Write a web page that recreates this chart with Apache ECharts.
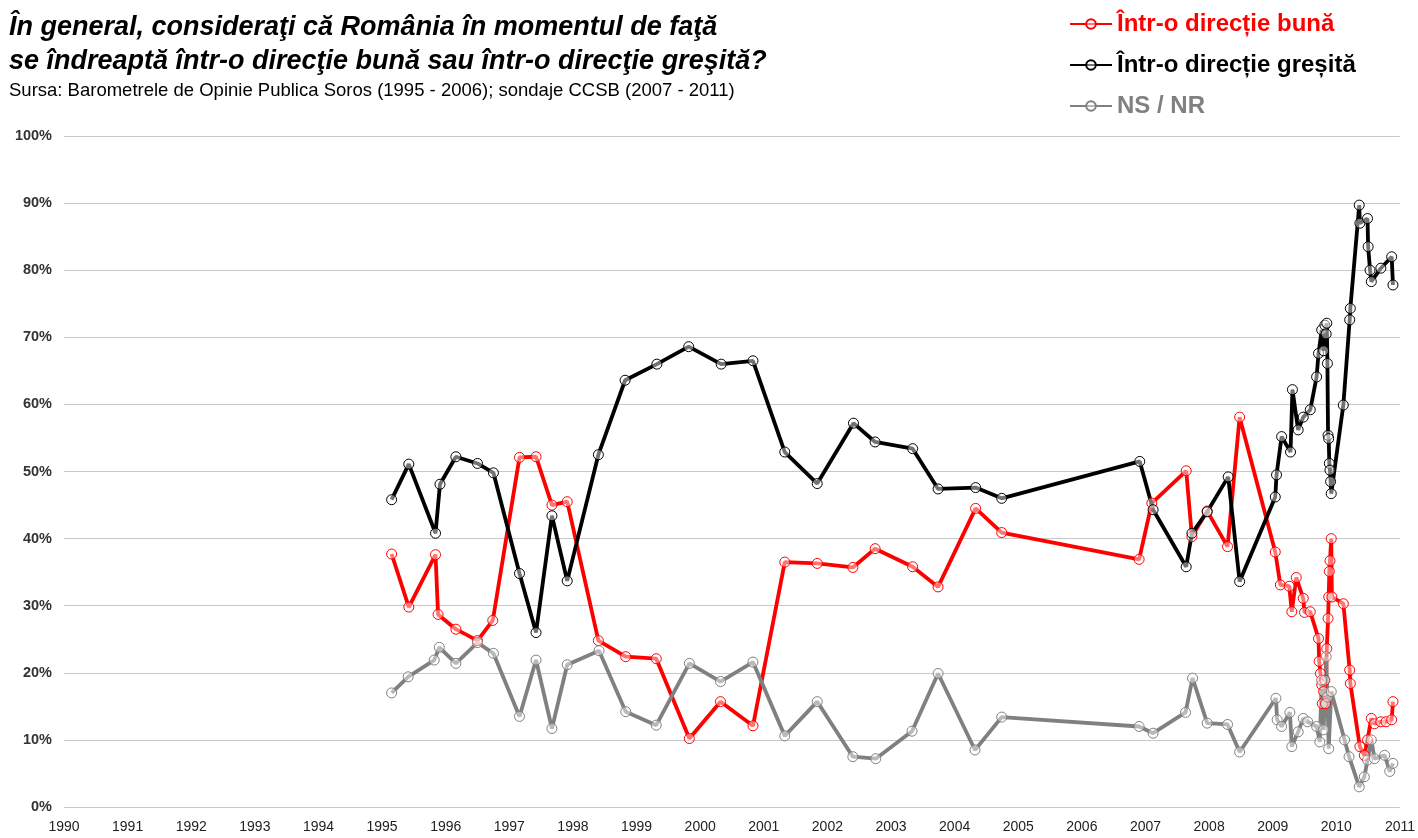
<!DOCTYPE html>
<html>
<head>
<meta charset="utf-8">
<title>Directia tarii</title>
<script src="https://cdn.jsdelivr.net/npm/echarts@6/dist/echarts.min.js"></script>
<style>
  html, body { margin: 0; padding: 0; background: #fff; }
  #chart { width: 1418px; height: 838px; }
</style>
</head>
<body>
<div id="chart"></div>
<script>
// momentul sondajului (an zecimal) si procentele
const tBuna = [1995.15, 1995.42, 1995.84, 1995.88, 1996.16, 1996.50, 1996.74, 1997.16, 1997.42, 1997.67, 1997.91,
  1998.40, 1998.83, 1999.31, 1999.83, 2000.32, 2000.83, 2001.33, 2001.84, 2002.40, 2002.75, 2003.34, 2003.74,
  2004.33, 2004.74, 2006.90, 2007.10, 2007.64, 2007.73, 2007.97, 2008.29, 2008.48, 2009.04, 2009.12, 2009.26,
  2009.30, 2009.37, 2009.48, 2009.50, 2009.59, 2009.72, 2009.73, 2009.75, 2009.77, 2009.78, 2009.80, 2009.82,
  2009.83, 2009.85, 2009.87, 2009.88, 2009.89, 2009.90, 2009.92, 2009.93, 2010.11, 2010.21, 2010.22, 2010.37,
  2010.44, 2010.49, 2010.55, 2010.60, 2010.70, 2010.78, 2010.87, 2010.89];
const vBuna = [37.7, 29.8, 37.6, 28.7, 26.5, 24.8, 27.8, 52.1, 52.2, 45.0, 45.5,
  24.8, 22.4, 22.1, 10.2, 15.7, 12.1, 36.5, 36.3, 35.7, 38.5, 35.8, 32.8,
  44.5, 40.9, 36.9, 45.3, 50.1, 40.3, 44.1, 38.8, 58.1, 38.0, 33.1, 32.9,
  29.1, 34.2, 31.1, 29.0, 29.1, 25.1, 21.7, 19.9, 18.2, 15.4, 17.2, 18.9,
  15.4, 23.6, 28.1, 31.3, 35.1, 36.7, 40.0, 31.3, 30.3, 20.4, 18.4, 9.0,
  7.7, 10.0, 13.2, 12.4, 12.7, 12.7, 13.0, 15.7];

const tGresita = [1995.15, 1995.42, 1995.84, 1995.91, 1996.16, 1996.50, 1996.75, 1997.16, 1997.42, 1997.67, 1997.91,
  1998.40, 1998.82, 1999.32, 1999.82, 2000.33, 2000.83, 2001.33, 2001.84, 2002.41, 2002.75, 2003.34, 2003.74,
  2004.33, 2004.74, 2006.91, 2007.12, 2007.64, 2007.73, 2007.97, 2008.30, 2008.48, 2009.04, 2009.06, 2009.14,
  2009.28, 2009.31, 2009.40, 2009.48, 2009.59, 2009.69, 2009.72, 2009.77, 2009.80, 2009.82, 2009.84, 2009.85,
  2009.86, 2009.87, 2009.88, 2009.89, 2009.90, 2009.91, 2009.92, 2010.11, 2010.21, 2010.22, 2010.36, 2010.37,
  2010.49, 2010.50, 2010.53, 2010.55, 2010.70, 2010.87, 2010.89];
const vGresita = [45.8, 51.1, 40.8, 48.1, 52.2, 51.2, 49.8, 34.8, 26.0, 43.4, 33.7,
  52.5, 63.6, 66.0, 68.6, 66.0, 66.5, 52.9, 48.2, 57.2, 54.4, 53.4, 47.4,
  47.6, 46.0, 51.5, 44.3, 35.8, 40.8, 44.0, 49.2, 33.6, 46.2, 49.5, 55.2,
  52.9, 62.2, 56.2, 58.1, 59.2, 64.1, 67.6, 71.1, 68.0, 71.8, 70.5, 72.1,
  66.1, 55.4, 54.9, 51.2, 50.2, 48.5, 46.7, 59.9, 72.6, 74.3, 89.7, 87.0,
  87.7, 83.5, 80.0, 78.3, 80.3, 82.0, 77.8];

const tNsnr = [1995.15, 1995.41, 1995.82, 1995.90, 1996.16, 1996.50, 1996.75, 1997.16, 1997.42, 1997.67, 1997.91,
  1998.41, 1998.83, 1999.31, 1999.83, 2000.32, 2000.83, 2001.33, 2001.84, 2002.40, 2002.76, 2003.33, 2003.74,
  2004.32, 2004.74, 2006.90, 2007.12, 2007.63, 2007.74, 2007.97, 2008.29, 2008.48, 2009.05, 2009.07, 2009.14,
  2009.27, 2009.30, 2009.40, 2009.48, 2009.55, 2009.69, 2009.74, 2009.77, 2009.80, 2009.84, 2009.86, 2009.88,
  2009.92, 2010.13, 2010.20, 2010.36, 2010.44, 2010.49, 2010.55, 2010.60, 2010.76, 2010.84, 2010.89];
const vNsnr = [17.0, 19.4, 21.9, 23.8, 21.4, 24.5, 22.9, 13.5, 21.9, 11.7, 21.2,
  23.3, 14.2, 12.2, 21.4, 18.7, 21.6, 10.6, 15.7, 7.5, 7.2, 11.3, 19.9,
  8.5, 13.4, 12.0, 11.0, 14.1, 19.2, 12.5, 12.3, 8.2, 16.2, 13.0, 12.0,
  14.1, 9.0, 11.2, 13.2, 12.7, 12.0, 9.7, 18.9, 11.5, 22.4, 16.4, 8.7,
  17.2, 10.0, 7.5, 3.0, 4.5, 7.0, 10.0, 7.2, 7.7, 5.3, 6.5];

const seriesNames = ['Într-o direcție bună', 'Într-o direcție greșită', 'NS / NR'];
const seriesColors = ['#ff0000', '#000000', '#808080'];

const zip = (t, v) => t.map((x, i) => [x, v[i]]);
const seriesData = [zip(tBuna, vBuna), zip(tGresita, vGresita), zip(tNsnr, vNsnr)];

const chart = echarts.init(document.getElementById('chart'));

const option = {
  animation: false,
  backgroundColor: '#fff',
  textStyle: { fontFamily: 'Arial, "Liberation Sans", sans-serif' },
  title: {
    left: 4,
    top: 6,
    itemGap: 2,
    text: 'În general, consideraţi că România în momentul de faţă\nse îndreaptă într-o direcţie bună sau într-o direcţie greşită?',
    textStyle: { fontSize: 27, fontStyle: 'italic', fontWeight: 'bold', color: '#000', lineHeight: 34 },
    subtext: 'Sursa: Barometrele de Opinie Publica Soros (1995 - 2006); sondaje CCSB (2007 - 2011)',
    subtextStyle: { fontSize: 18.5, color: '#000' }
  },
  legend: {
    orient: 'vertical',
    left: 1064,
    top: 7,
    itemWidth: 42,
    itemHeight: 12,
    itemGap: 17,
    textStyle: { fontSize: 24, fontWeight: 'bold' },
    data: seriesNames.map((n, i) => ({ name: n, textStyle: { color: seriesColors[i] } }))
  },
  grid: { left: 64, right: 18, top: 136, bottom: 31 },
  xAxis: {
    type: 'value',
    min: 1990,
    max: 2011,
    interval: 1,
    axisLine: { show: false },
    axisTick: { show: false },
    splitLine: { show: false },
    axisLabel: { color: '#222', fontSize: 14, margin: 13, formatter: v => String(v) }
  },
  yAxis: {
    type: 'value',
    min: 0,
    max: 100,
    interval: 10,
    axisLine: { show: false },
    axisTick: { show: false },
    splitLine: { lineStyle: { color: '#c8c8c8', width: 1 } },
    axisLabel: { color: '#333', fontSize: 14.5, fontWeight: 'bold', margin: 12, formatter: '{value}%' }
  },
  series: seriesNames.map((n, i) => ({
    name: n,
    type: 'line',
    data: seriesData[i],
    symbol: 'circle',
    symbolSize: 10,
    lineStyle: { color: seriesColors[i], width: 3.8 },
    itemStyle: { color: 'rgba(255,255,255,0.45)', borderColor: seriesColors[i], borderWidth: 1 }
  }))
};

chart.setOption(option);
window.addEventListener('resize', chart.resize);
</script>
</body>
</html>
